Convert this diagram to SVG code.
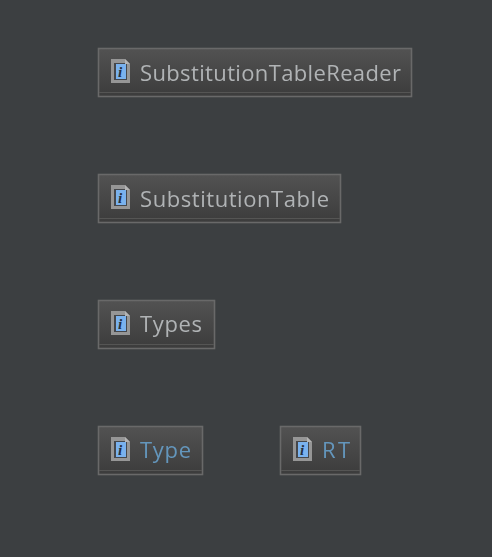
<svg xmlns="http://www.w3.org/2000/svg" xmlns:xlink="http://www.w3.org/1999/xlink" width="492" height="557" viewBox="0 0 492 557">
<style>
.box{fill:url(#g);stroke:#696969;stroke-width:1.6}
.base{stroke:#555554;stroke-width:1.2}
.t{font-family:"Open Sans",sans-serif;font-size:22px;fill:#b0b3b5;filter:url(#soft)}
.l{fill:#6496bc}
.i{font-family:"Liberation Serif",serif;font-size:15px;font-style:italic;font-weight:bold;fill:#24303e}
</style>
<defs>
<filter id="soft" x="-5%" y="-20%" width="110%" height="140%"><feGaussianBlur stdDeviation="0.25"/></filter>
<linearGradient id="g" x1="0" y1="0" x2="0" y2="1"><stop offset="0" stop-color="#525252"/><stop offset="1" stop-color="#3c3c3c"/></linearGradient>
<g id="ic">
<path d="M0 0H14L19 5V24H0Z" fill="#969696"/>
<rect x="3" y="4" width="13" height="17" fill="#45474b"/>
<rect x="5" y="5" width="10" height="15" fill="#7ab2ee"/>
<path d="M14 0V5H19" fill="#b4b4b4"/>
<text class="i" x="7" y="18">i</text>
</g>
</defs>
<rect width="492" height="557" fill="#3c3f41"/>
<g id="connectors"></g>
<g id="SubstitutionTableReader"><rect class="box" x="98.500" y="48.500" width="313" height="48"/><path class="base" d="M99 92.500H411"/><use xlink:href="#ic" href="#ic" x="111" y="59"/><text class="t" x="140" y="81" textLength="261" lengthAdjust="spacing">SubstitutionTableReader</text></g>
<g id="SubstitutionTable"><rect class="box" x="98.500" y="174.500" width="242" height="48"/><path class="base" d="M99 218.500H340"/><use xlink:href="#ic" href="#ic" x="111" y="185"/><text class="t" x="140" y="207" textLength="189" lengthAdjust="spacing">SubstitutionTable</text></g>
<g id="Types"><rect class="box" x="98.500" y="300.500" width="116" height="48"/><path class="base" d="M99 344.500H214"/><use xlink:href="#ic" href="#ic" x="111" y="311"/><text class="t" x="140" y="332" textLength="62" lengthAdjust="spacing">Types</text></g>
<g id="Type"><rect class="box" x="98.500" y="426.500" width="104" height="48"/><path class="base" d="M99 470.500H202"/><use xlink:href="#ic" href="#ic" x="111" y="437"/><text class="t l" x="140" y="458" textLength="51" lengthAdjust="spacing">Type</text></g>
<g id="RT"><rect class="box" x="280.500" y="426.500" width="80" height="48"/><path class="base" d="M281 470.500H360"/><use xlink:href="#ic" href="#ic" x="293" y="437"/><text class="t l" x="322" y="458" textLength="28" lengthAdjust="spacing">RT</text></g>
</svg>
